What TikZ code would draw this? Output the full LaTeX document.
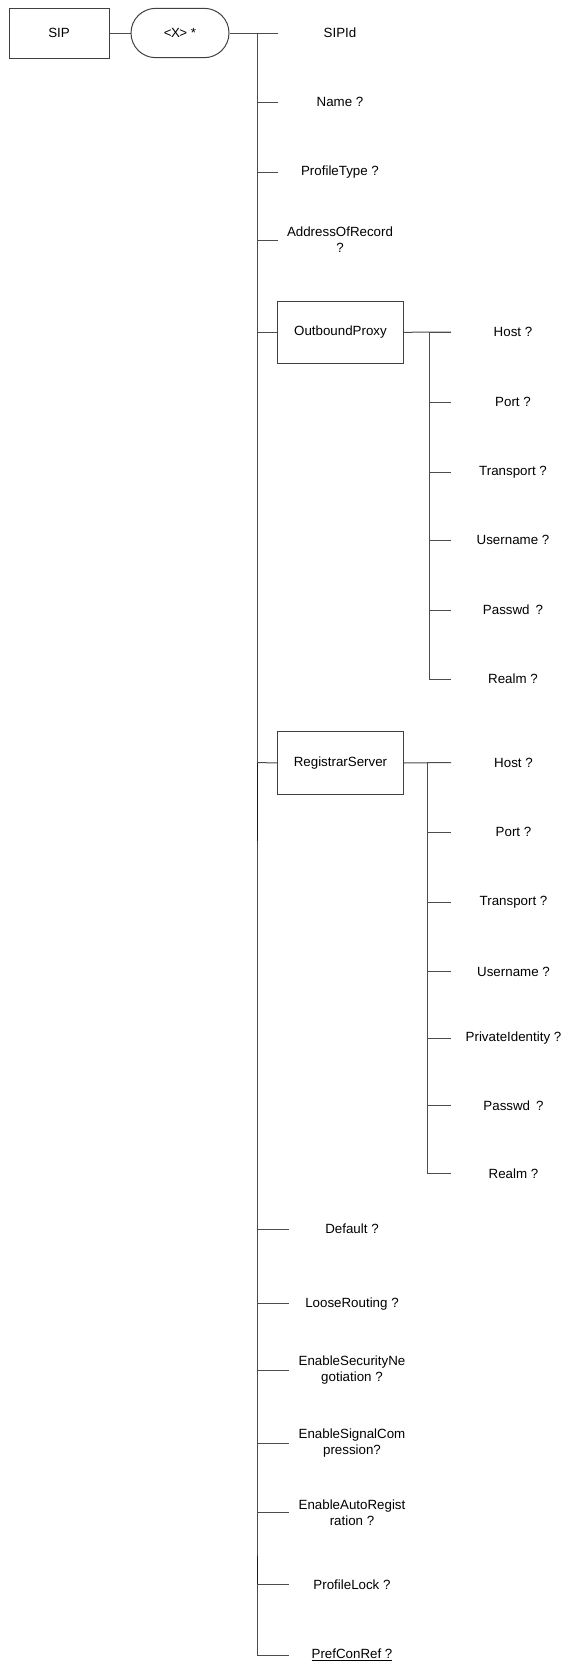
\documentclass[tikz,border=0pt]{standalone}
\usepackage{fontspec}
\setmainfont{Liberation Sans}
\usetikzlibrary{shapes.misc}
\begin{document}
\begin{tikzpicture}[x=0.75pt,y=-0.75pt,
  ln/.style={draw=black!70, line width=0.75pt},
  dk/.style={draw=black!90, line width=0.75pt},
  box/.style={draw=black!75, line width=0.75pt, inner sep=0pt, font=\fontsize{10}{12}\selectfont},
  lbl/.style={inner sep=0pt, align=center, font=\fontsize{10}{12}\selectfont}]
\useasboundingbox (0,0) rectangle (562,1663);
% root
\node[box, minimum width=75pt, minimum height=37.5pt] (sip) at (59,33) {SIP};
\node[box, rounded rectangle, minimum width=73.5pt, minimum height=37pt] (xx) at (180,33) {<\kern-0.5pt X\kern-0.5pt> *};
\draw[ln] (sip.east) -- (xx.west);
% upper children
\foreach \n/\y/\t in {sipid/33/SIPId, name/102/Name ?, ptype/172/ProfileType ?, aor/240/{AddressOfRecord\\?}} {
  \node[lbl] (\n) at (340,\y) {\t};
  \coordinate (\n-j) at (257,\y);
  \coordinate (\n-e) at (278,\y);
  \draw[ln] (\n-j) -- (\n-e);
}
\draw[ln] (xx.east) -- (sipid-e);
% OutboundProxy
\node[box, minimum width=94.2pt, minimum height=46.7pt] (op) at (340.5,332.3) {OutboundProxy};
\coordinate (op-j) at (257,332.3);
\draw[ln] (op-j) -- (op.west);
\foreach \n/\y/\t in {ophost/332/Host ?, opport/402/Port ?, optrans/472/Transport ?, opuser/540/Username ?, oppass/610/Passwd\hspace{0.45em}?, oprealm/679/Realm ?} {
  \node[lbl] (\n) at (513,\y) {\t};
  \coordinate (\n-j) at (429,\y);
  \coordinate (\n-e) at (451,\y);
  \draw[ln] (\n-j) -- (\n-e);
}
\draw[ln] (op.east) -- (ophost-e);
\draw[ln] (ophost-j) -- (oprealm-j);
% RegistrarServer
\node[box, minimum width=93.8pt, minimum height=47pt] (rs) at (340.5,763) {RegistrarServer};
\coordinate (rs-j) at (257,762.5);
\draw[ln] (rs-j) -- (rs.west);
\foreach \n/\y/\t in {rshost/762.5/Host ?, rsport/832/Port ?, rstrans/902/Transport ?, rsuser/971.7/Username ?, rspriv/1038.3/PrivateIdentity ?, rspass/1105.3/Passwd\hspace{0.45em}?, rsrealm/1173.3/Realm ?} {
  \node[lbl] (\n) at (513.5,\y) {\t};
  \coordinate (\n-j) at (427,\y);
  \coordinate (\n-e) at (451,\y);
  \draw[ln] (\n-j) -- (\n-e);
}
\draw[ln] (rs.east) -- (rshost-e);
\draw[ln] (rshost-j) -- (rsrealm-j);
% lower children
\foreach \n/\y/\t in {def/1229/Default ?, loose/1303.7/LooseRouting ?, esn/1370.3/{EnableSecurityNe\\gotiation ?}, esc/1443.3/{EnableSignalCom\\pression?}, ear/1512.7/{EnableAutoRegist\\ration ?}, plock/1584.3/ProfileLock ?, pref/1655/\underline{PrefConRef ?}} {
  \node[lbl] (\n) at (352,\y) {\t};
  \coordinate (\n-j) at (257,\y);
  \coordinate (\n-e) at (289,\y);
  \draw[ln] (\n-j) -- (\n-e);
}
% main trunk
\draw[ln] (sipid-j) -- (pref-j);
\coordinate (dk1) at (257,841);
\coordinate (dk2) at (257,1556);
\draw[dk] (rs-j) -- (dk1);
\draw[dk] (dk2) -- (plock-j);
\end{tikzpicture}
\end{document}
